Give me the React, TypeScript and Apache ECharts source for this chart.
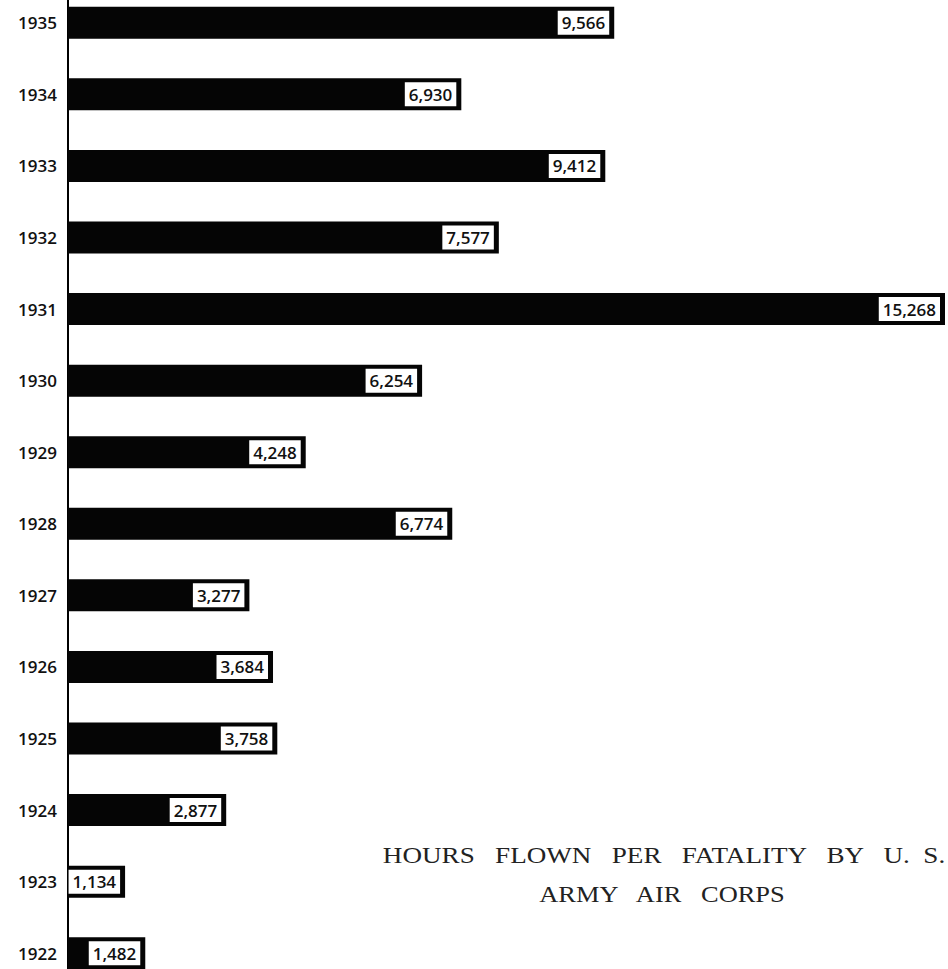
import React, { useEffect, useRef } from "react";
import * as echarts from "echarts";

const years = ["1922", "1923", "1924", "1925", "1926", "1927", "1928", "1929", "1930", "1931", "1932", "1933", "1934", "1935"];
const hoursPerFatality = [1482, 1134, 2877, 3758, 3684, 3277, 6774, 4248, 6254, 15268, 7577, 9412, 6930, 9566];
const titleLines = ["HOURS   FLOWN   PER   FATALITY   BY   U.  S.", "ARMY   AIR   CORPS"];

const OFFSET = 13;

export default function App() {
  const ref = useRef<HTMLDivElement>(null);
  useEffect(() => {
    document.body.style.margin = "0";
    const chart = echarts.init(ref.current!, null, { renderer: "svg" });
    chart.setOption({
      animation: false,
      backgroundColor: "#ffffff",
      grid: { left: 68, right: 3, top: 0, bottom: 0, containLabel: false },
      xAxis: {
        type: "value",
        min: 150,
        max: 15268,
        show: false,
      },
      yAxis: {
        type: "category",
        data: years,
        axisLine: { show: true, lineStyle: { color: "#000", width: 2 } },
        axisTick: { show: false },
        axisLabel: {
          color: "#111",
          fontFamily: "Open Sans",
          fontSize: 17,
          fontWeight: 600,
          margin: 11,
        },
      },
      series: [
        {
          type: "bar",
          data: hoursPerFatality,
          barWidth: 32,
          clip: true,
          itemStyle: { color: "#050505" },
          label: {
            show: true,
            position: "insideRight",
            distance: 5,
            formatter: (p: any) => p.value.toLocaleString("en-US"),
            color: "#111",
            backgroundColor: "#ffffff",
            padding: [4, 4, 3, 4],
            fontFamily: "Open Sans",
            fontSize: 17,
            fontWeight: 600,
          },
        },
      ],
      graphic: [
        {
          type: "text",
          x: 664,
          y: 855 + OFFSET,
          scaleX: 1.13,
          originX: 0,
          style: {
            text: titleLines[0],
            fill: "#222",
            font: "24px 'Liberation Serif'",
            align: "center",
            verticalAlign: "middle",
          },
        },
        {
          type: "text",
          x: 662,
          y: 894 + OFFSET,
          scaleX: 1.1,
          style: {
            text: titleLines[1],
            fill: "#222",
            font: "24px 'Liberation Serif'",
            align: "center",
            verticalAlign: "middle",
          },
        },
      ],
    });
    return () => chart.dispose();
  }, []);
  return (
    <div style={{ width: 948, height: 969, position: "absolute", left: 0, top: 0, overflow: "hidden", background: "#fff" }}>
      <div ref={ref} style={{ width: 948, height: 969 + OFFSET + 20, position: "absolute", left: 0, top: -OFFSET }} />
    </div>
  );
}
